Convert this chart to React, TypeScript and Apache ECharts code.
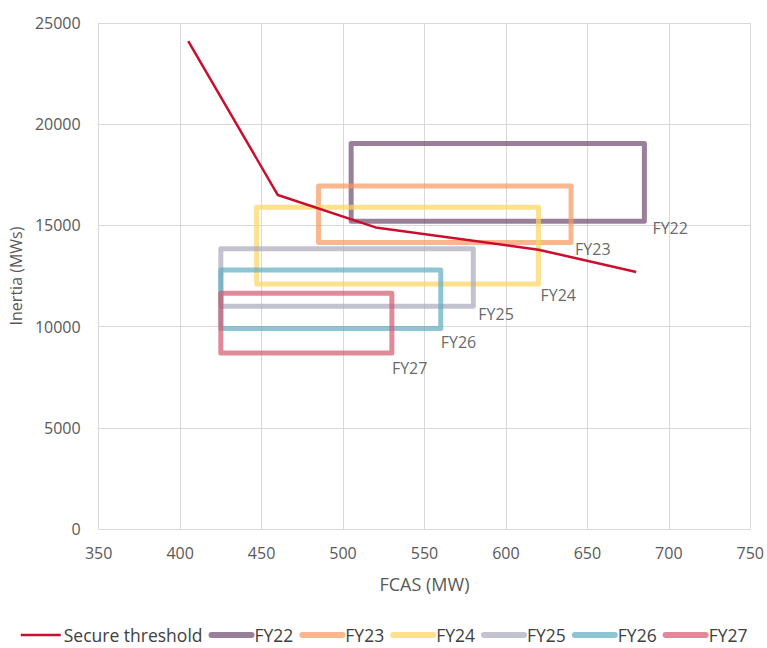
import React, { useEffect, useRef } from "react";
import * as echarts from "echarts";

const thresholdX = [405, 460, 520, 620, 680];
const thresholdY = [24100, 16500, 14900, 13800, 12700];

const years = ["FY22", "FY23", "FY24", "FY25", "FY26", "FY27"];
const fcasMin = [505, 485, 447, 425, 425, 425];
const fcasMax = [685, 640, 620, 580, 560, 530];
const inertiaMin = [15200, 14150, 12100, 11000, 9900, 8700];
const inertiaMax = [19050, 16950, 15900, 13850, 12800, 11650];

const yearColors = [
  "rgba(110,72,109,0.7)",
  "rgba(246,152,95,0.7)",
  "rgba(254,211,95,0.7)",
  "rgba(169,169,186,0.7)",
  "rgba(95,172,192,0.7)",
  "rgba(211,88,109,0.7)",
];
const labelOffsets = [
  [8, 7],
  [4, 6],
  [2, 11],
  [5, 8],
  [0, 13],
  [0, 15],
];

const FONT = "'Open Sans', sans-serif";

export default function App() {
  const ref = useRef<HTMLDivElement>(null);
  useEffect(() => {
    if (!ref.current) return;
    const chart = echarts.init(ref.current, undefined, { renderer: "svg" });
    const rectSeries = years.map((name, i) => ({
      name,
      type: "line",
      symbol: "none",
      z: 2 + i,
      lineStyle: { color: yearColors[i], width: 5, cap: "round", join: "round" },
      itemStyle: { color: yearColors[i] },
      data: [
        [fcasMin[i], inertiaMax[i]],
        [fcasMax[i], inertiaMax[i]],
        [fcasMax[i], inertiaMin[i]],
        [fcasMin[i], inertiaMin[i]],
        [fcasMin[i], inertiaMax[i]],
      ],
    }));
    const option: any = {
      animation: false,
      textStyle: { fontFamily: FONT },
      grid: { left: 98, right: 15, top: 23, bottom: 119 },
      legend: {
        bottom: 3,
        left: "center",
        padding: 0,
        itemWidth: 40,
        itemHeight: 12,
        itemGap: 6,
        itemStyle: { opacity: 0 },
        textStyle: {
          fontFamily: FONT,
          fontSize: 17.5,
          lineHeight: 20,
          color: "#404040",
          padding: [0, 0, 0, -2],
        },
        data: [
          { name: "Secure threshold", lineStyle: { width: 2.5 } },
          ...years.map((y) => ({ name: y, lineStyle: { width: 6, cap: "round" } })),
        ],
      },
      xAxis: {
        type: "value",
        min: 350,
        max: 750,
        interval: 50,
        name: "FCAS (MW)",
        nameLocation: "middle",
        nameGap: 46,
        nameTextStyle: { fontFamily: FONT, fontSize: 18, color: "#595959" },
        axisLine: { show: true, lineStyle: { color: "#d9d9d9" } },
        axisTick: { show: false },
        axisLabel: { fontFamily: FONT, fontSize: 16, color: "#595959", margin: 16 },
        splitLine: { show: true, lineStyle: { color: "#d9d9d9" } },
      },
      yAxis: {
        type: "value",
        min: 0,
        max: 25000,
        interval: 5000,
        name: "Inertia (MWs)",
        nameLocation: "middle",
        nameGap: 72,
        nameTextStyle: { fontFamily: FONT, fontSize: 16, color: "#595959" },
        axisLine: { show: true, lineStyle: { color: "#d9d9d9" } },
        axisTick: { show: false },
        axisLabel: {
          fontFamily: FONT,
          fontSize: 16,
          color: "#595959",
          margin: 18,
          formatter: (v: number) => String(v),
        },
        splitLine: { show: true, lineStyle: { color: "#d9d9d9" } },
      },
      series: [
        {
          name: "Secure threshold",
          type: "line",
          symbol: "none",
          z: 10,
          lineStyle: { color: "#c8102e", width: 2.5 },
          itemStyle: { color: "#c8102e" },
          data: thresholdX.map((x, i) => [x, thresholdY[i]]),
        },
        ...rectSeries,
        {
          name: "labels",
          type: "scatter",
          symbolSize: 0,
          z: 20,
          data: years.map((name, i) => ({
            value: [fcasMax[i], inertiaMin[i]],
            label: {
              show: true,
              position: "right",
              distance: 0,
              offset: labelOffsets[i],
              formatter: name,
              fontFamily: FONT,
              fontSize: 16,
              color: "#404040",
            },
          })),
        },
      ],
    };
    chart.setOption(option);
    return () => chart.dispose();
  }, []);
  return (
    <div
      ref={ref}
      style={{ position: "fixed", left: 0, top: 0, width: 767, height: 648, background: "#fff" }}
    />
  );
}
